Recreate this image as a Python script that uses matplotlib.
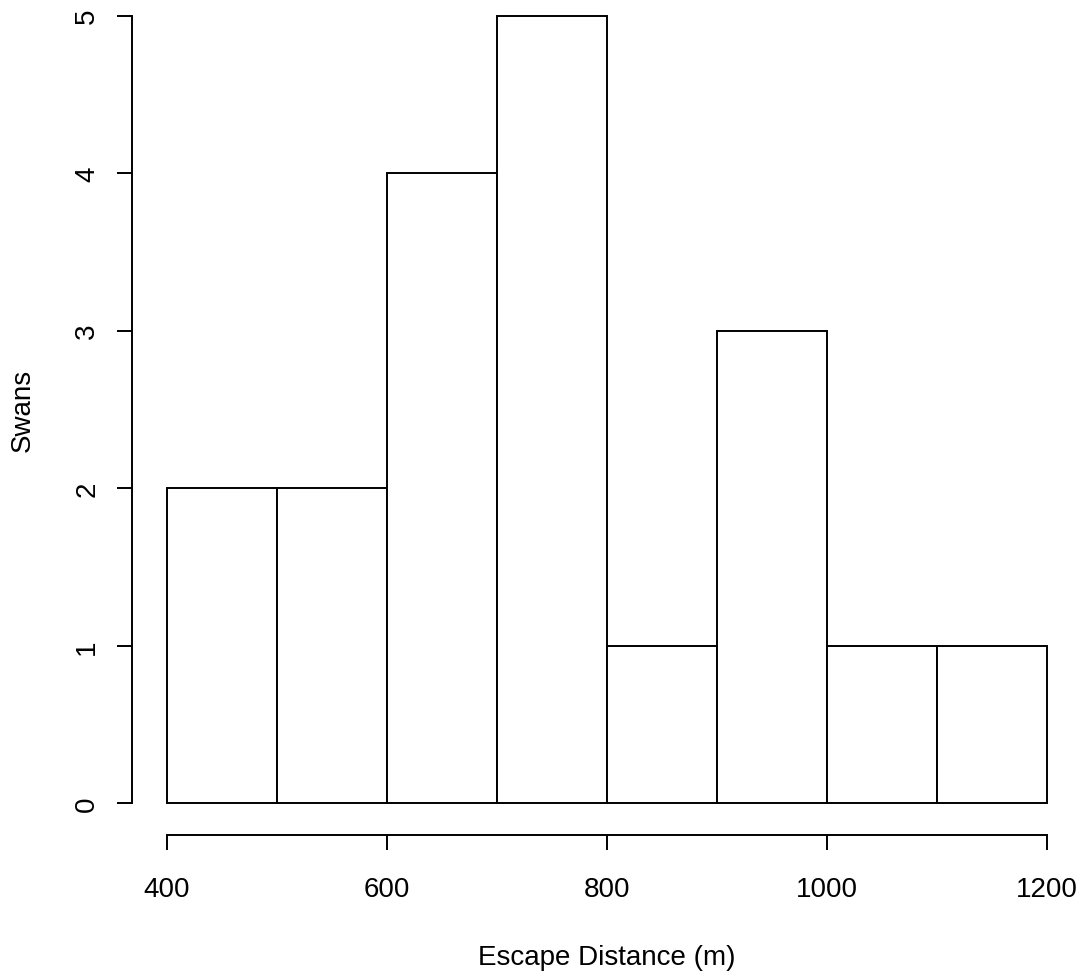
import matplotlib
matplotlib.use("Agg")
import matplotlib.pyplot as plt

plt.rcParams['font.family'] = ['Liberation Sans', 'DejaVu Sans']

bin_left = [400, 500, 600, 700, 800, 900, 1000, 1100]
counts = [2, 2, 4, 5, 1, 3, 1, 1]
bin_width = 100
x_ticks = [400, 600, 800, 1000, 1200]
y_ticks = [0, 1, 2, 3, 4, 5]
xlabel = "Escape Distance (m)"
ylabel = "Swans"

W, H = 1087, 979
dpi = 100
fig = plt.figure(figsize=(W / dpi, H / dpi), dpi=dpi)

# plot region in pixels
left_px, right_px = 131.8, 1082.2
top_px, bottom_px = -14.8, 835.8
ax = fig.add_axes([left_px / W, 1 - bottom_px / H,
                   (right_px - left_px) / W, (bottom_px - top_px) / H])
ax.set_xlim(368, 1232)
ax.set_ylim(-0.2, 5.2)

ax.bar(bin_left, counts, width=bin_width, align='edge', facecolor='white',
       edgecolor='black', linewidth=1.4, clip_on=False)

for s in ['top', 'right']:
    ax.spines[s].set_visible(False)
ax.spines['left'].set_bounds(0, 5)
ax.spines['bottom'].set_bounds(400, 1200)
for s in ['left', 'bottom']:
    ax.spines[s].set_linewidth(1.4)

ax.set_xticks(x_ticks)
ax.set_xticklabels([str(v) for v in x_ticks])
ax.set_yticks(y_ticks)
ax.set_yticklabels([str(v) for v in y_ticks], rotation=90, va='center')
ax.tick_params(axis='both', direction='out', length=10.8, width=1.4,
               labelsize=20, colors='black')
ax.tick_params(axis='x', pad=19)
ax.tick_params(axis='y', pad=12)

fig.text(607 / W, 1 - 965 / H, xlabel, ha='center', va='baseline', fontsize=20)
fig.text(23 / W, 1 - 410 / H, ylabel, ha='center', va='center', rotation=90, fontsize=20)

fig.savefig("out.png", dpi=dpi, facecolor='white')
